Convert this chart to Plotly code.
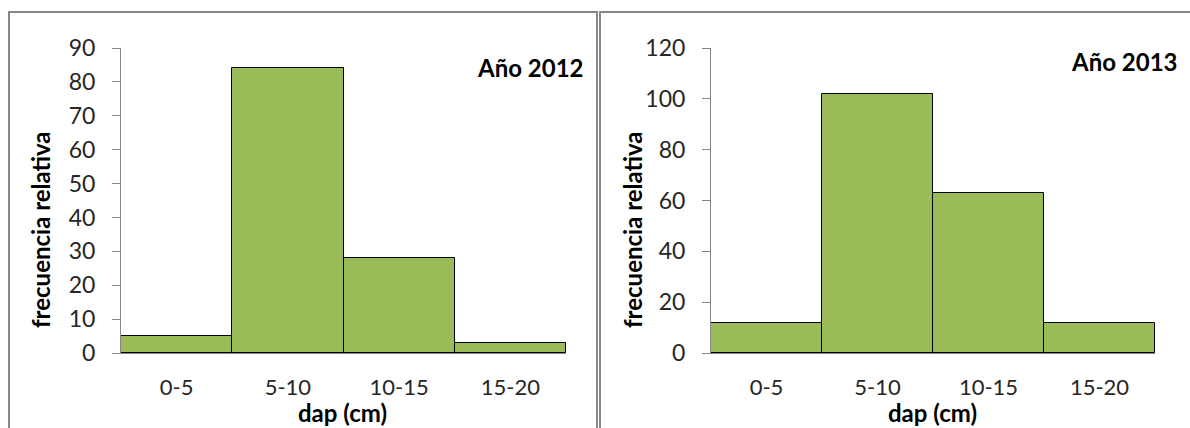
import plotly.graph_objects as go

# Diameter classes (dap, cm) and relative frequencies per year
clases = ["0-5", "5-10", "10-15", "15-20"]
frec_2012 = [5, 84, 28, 3]
frec_2013 = [12, 102, 63, 12]
titulo_2012 = "Año 2012"
titulo_2013 = "Año 2013"

W, H = 1190, 428
FONT = "Lato"
VERDE = "#9BBB59"
GRIS = "#878787"
TEXTO = "#262626"


def px(x):
    return x / W


def py(y):
    return 1 - y / H


fig = go.Figure()
for serie, ax in ((frec_2012, ""), (frec_2013, "2")):
    fig.add_trace(go.Bar(
        x=clases, y=serie, xaxis="x" + ax, yaxis="y" + ax,
        width=1, marker=dict(color=VERDE, line=dict(color="black", width=1)),
        showlegend=False,
    ))

xcommon = dict(type="category", showline=True, linecolor=GRIS, linewidth=1,
               ticks="", showgrid=False, zeroline=False, automargin=False,
               tickfont=dict(family=FONT, size=22, color=TEXTO),
               ticklabelstandoff=15)
ycommon = dict(showline=True, linecolor=GRIS, linewidth=1, ticks="outside",
               ticklen=8, tickcolor=GRIS, showgrid=False, zeroline=False,
               automargin=False,
               tickfont=dict(family=FONT, size=23, color=TEXTO),
               ticklabelstandoff=12)

fig.update_layout(
    width=W, height=H, margin=dict(l=0, r=0, t=0, b=0, autoexpand=False),
    paper_bgcolor="white", plot_bgcolor="white", bargap=0,
    xaxis=dict(domain=[px(121), px(566)], anchor="y", **xcommon),
    yaxis=dict(domain=[py(353), py(48)], anchor="x", range=[0, 90], dtick=10, **ycommon),
    xaxis2=dict(domain=[px(711), px(1155)], anchor="y2", **xcommon),
    yaxis2=dict(domain=[py(353), py(48)], anchor="x2", range=[0, 120], dtick=20, **ycommon),
)

TF = dict(family=FONT, size=24, color="black")
ann = []
for xc, xt, title, tx, ty in ((343, 40, titulo_2012, 585, 67),
                              (932, 632, titulo_2013, 1179, 62)):
    ann.append(dict(text="<b>dap (cm)</b>", x=px(xc), y=py(412), xref="paper", yref="paper",
                    xanchor="center", yanchor="middle", showarrow=False, font=TF))
    ann.append(dict(text="<b>frecuencia relativa</b>", x=px(xt), y=py(230), xref="paper",
                    yref="paper", xanchor="center", yanchor="middle", textangle=-90,
                    showarrow=False, font=TF))
    ann.append(dict(text="<b>" + title + "</b>", x=px(tx), y=py(ty), xref="paper",
                    yref="paper", xanchor="right", yanchor="middle", showarrow=False,
                    font=TF))
fig.update_layout(annotations=ann)

# Panel frames
fig.add_shape(type="rect", xref="paper", yref="paper", x0=px(9), x1=px(597),
              y0=-0.1, y1=py(12), line=dict(color=GRIS, width=2))
fig.add_shape(type="rect", xref="paper", yref="paper", x0=px(600), x1=1.1,
              y0=-0.1, y1=py(12), line=dict(color=GRIS, width=2))

fig.write_html("out.html")
